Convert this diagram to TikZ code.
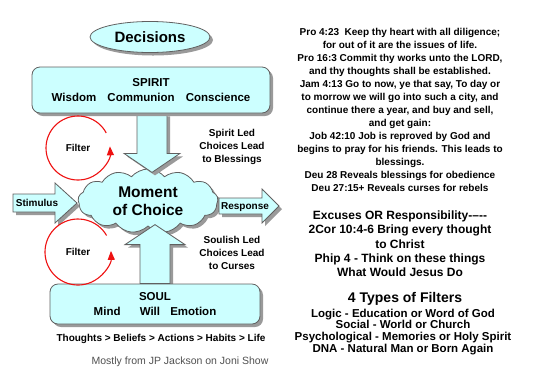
\documentclass[tikz,border=0pt]{standalone}
\usepackage{fontspec}
\setmainfont{Liberation Sans}
\usetikzlibrary{shapes.geometric,shapes.symbols,shadows,arrows.meta,calc}

\definecolor{palecyan}{HTML}{CCFFFF}
\definecolor{edgegray}{HTML}{606060}
\definecolor{shadegray}{HTML}{9A9A9A}
\definecolor{loopred}{HTML}{EE1111}
\definecolor{notegray}{HTML}{505050}

\pgfdeclarelayer{cloudlayer}
\pgfdeclarelayer{arrowlayer}
\pgfsetlayers{cloudlayer,arrowlayer,main}

\tikzset{
  grayshadow/.style={drop shadow={shadow xshift=3pt,shadow yshift=-3pt,fill=shadegray,opacity=1}},
  panel/.style={draw=edgegray,fill=palecyan,line width=0.8pt,grayshadow},
  roundbox/.style={panel,rectangle,rounded corners=8pt,align=center,inner sep=0pt,font=\fontsize{11.5}{15}\selectfont\bfseries},
  filterloop/.style={loopred,line width=1.1pt,-{Triangle[length=9pt,width=7pt]}},
  sidenote/.style={align=center,inner sep=0pt,font=\fontsize{10}{13}\selectfont\bfseries},
}

% tail, angle, length, shaft half width, head half width, head length
\newcommand\fatarrow[6]{%
  \begin{scope}[shift={($(#1)+(3,3)$)},rotate=#2]
    \fill[shadegray] (0,#4) -- ({#3-#6},#4) -- ({#3-#6},#5) -- (#3,0) -- ({#3-#6},-#5) -- ({#3-#6},-#4) -- (0,-#4) -- cycle;
  \end{scope}
  \begin{scope}[shift={(#1)},rotate=#2]
    \filldraw[fill=palecyan,draw=edgegray,line width=0.8pt] (0,#4) -- ({#3-#6},#4) -- ({#3-#6},#5) -- (#3,0) -- ({#3-#6},-#5) -- ({#3-#6},-#4) -- (0,-#4) -- cycle;
  \end{scope}}

\begin{document}
\begin{tikzpicture}[x=1pt,y=-1pt]
\useasboundingbox (0,0) rectangle (535,384);

\node[panel,ellipse,minimum width=120,minimum height=31,inner sep=0pt,font=\fontsize{15}{17}\selectfont\bfseries] (decisions) at (150,37) {Decisions};
\node[roundbox,minimum width=238,minimum height=46] (spirit) at (151,90) {SPIRIT\\Wisdom\hspace{8pt} Communion\hspace{8pt} Conscience};
\node[roundbox,minimum width=210,minimum height=40] (soul) at (155,304) {SOUL\\Mind\hspace{16pt} Will\hspace{7pt} Emotion};

\begin{pgfonlayer}{cloudlayer}
\node[panel,cloud,cloud puffs=13,cloud puff arc=100,cloud ignores aspect,minimum width=140,minimum height=64,inner sep=0pt,align=center,font=\fontsize{15.5}{18}\selectfont\bfseries] (choice) at (148,201) {Moment\\of Choice};
\end{pgfonlayer}

\coordinate (downtail) at ($(spirit.south)+(1,0)$);
\coordinate (uptail) at (soul.north);
\coordinate (stimtail) at (13,203);
\coordinate (resptail) at (219,206);

\begin{pgfonlayer}{arrowlayer}
\fatarrow{downtail}{-90}{59}{15}{28}{19}
\fatarrow{uptail}{90}{59}{15}{30}{20}
\fatarrow{stimtail}{0}{64}{9}{20}{22}
\fatarrow{resptail}{0}{60}{8}{17}{17}
\end{pgfonlayer}

\node[sidenote] (stimulus) at (37,203) {Stimulus};
\node[sidenote] (response) at (245,207) {Response};

\node[sidenote] (filtertop) at (78,148) {Filter};
\node[sidenote] (filterbottom) at (78,252) {Filter};
\draw[filterloop] ([shift={(-28:32)}]filtertop.center) arc[start angle=-28,end angle=-363,radius=32];
\draw[filterloop] ([shift={(-30:33)}]filterbottom.center) arc[start angle=-30,end angle=-362,radius=33];

\node[sidenote] (spiritled) at (232,147) {Spirit Led\\Choices Lead\\to Blessings};
\node[sidenote] (soulled) at (232,253) {Soulish Led\\Choices Lead\\to Curses};

\node[sidenote] (chain) at (161,339) {Thoughts > Beliefs > Actions > Habits > Life};
\node[inner sep=0pt,text=notegray,font=\fontsize{10.5}{12}\selectfont] (credit) at (180,362) {Mostly from JP Jackson on Joni Show};

\node[sidenote,anchor=north] (scripture) at (400,28.3) {Pro 4:23\ \ Keep thy heart with all diligence;\\
for out of it are the issues of life.\\
Pro 16:3 Commit thy works unto the LORD,\\
and thy thoughts shall be established.\\
Jam 4:13 Go to now, ye that say, To day or\\
to morrow we will go into such a city, and\\
continue there a year, and buy and sell,\\
and get gain:\\
Job 42:10 Job is reproved by God and\\
begins to pray for his friends. This leads to\\
blessings.\\
Deu 28 Reveals blessings for obedience\\
Deu 27:15+ Reveals curses for rebels};

\node[sidenote,anchor=north,font=\fontsize{12}{14.3}\selectfont\bfseries] (excuses) at (400,210.5) {Excuses OR Responsibility-{}--{}-{}-\\
2Cor 10:4-6 Bring every thought\\
to Christ\\
Phip 4 - Think on these things\\
What Would Jesus Do};

\node[sidenote,anchor=north,font=\fontsize{14}{16}\selectfont\bfseries] (filtertitle) at (405,291.8) {4 Types of Filters};
\node[sidenote,anchor=north,font=\fontsize{11.5}{11.7}\selectfont\bfseries] (filterlist) at (403,308.7) {Logic - Education or Word of God\\
Social - World or Church\\
Psychological - Memories or Holy Spirit\\
DNA - Natural Man or Born Again};
\end{tikzpicture}
\end{document}
